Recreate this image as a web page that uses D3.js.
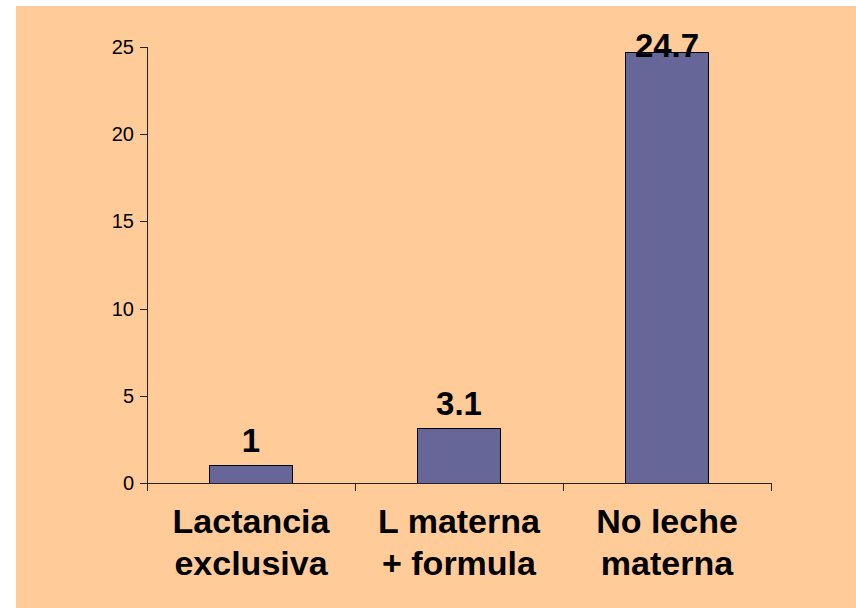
<!DOCTYPE html>
<html>
<head>
<script src="https://d3js.org/d3.v7.min.js"></script>
<style>
  body { margin: 0; background: #fff; }
  svg { display: block; }
  text { font-family: "Liberation Sans", Arial, sans-serif; fill: #000; }
</style>
</head>
<body>
<svg class="target"></svg>
<script>

width = 856
height = 608

// chart data
categories = [ ['Lactancia', 'exclusiva'], ['L materna', '+ formula'], ['No leche', 'materna'] ]
values = [ 1, 3.1, 24.7 ]
yTicks = [ 0, 5, 10, 15, 20, 25 ]

margin = ({ top: 47, right: 85, bottom: 125, left: 147 })

const svg = d3.select('.target')
    .attr('width', width)
    .attr('height', height)

// peach panel
svg.append('rect')
    .attr('x', 16).attr('y', 6)
    .attr('width', width - 16).attr('height', height - 6)
    .attr('fill', '#ffcc99')

xScale = d3.scaleBand(
  d3.range(categories.length),
  [ margin.left, width - margin.right ]
).paddingInner(0.6).paddingOuter(0.3)

// boundaries between categories, for the tick marks
xEdges = d3.scaleLinear([ 0, categories.length ], [ margin.left, width - margin.right ])

yScale = d3.scaleLinear(
  [ 0, 25 ],
  [ height - margin.bottom, margin.top ]
)

// bars
svg.append('g')
  .selectAll('rect')
  .data(values)
  .join('rect')
    .attr('x', (d, i) => xScale(i))
    .attr('y', d => yScale(d))
    .attr('width', xScale.bandwidth())
    .attr('height', d => yScale(0) - yScale(d))
    .attr('fill', '#666699')
    .attr('stroke', '#000')
    .attr('stroke-width', 1)
    .attr('shape-rendering', 'crispEdges')

// y axis
const yAxis = d3.axisLeft(yScale)
    .tickValues(yTicks)
    .tickSize(7)
    .tickPadding(6)
    .tickSizeOuter(0)

const gy = svg.append('g')
    .attr('transform', `translate(${ margin.left },0)`)
    .call(yAxis)
gy.select('.domain').remove()
gy.selectAll('line').attr('stroke', '#222').attr('shape-rendering', 'crispEdges')
gy.selectAll('text')
    .style('font-size', '20px')
    .style('font-family', '"Liberation Sans Narrow", "Arial Narrow", "Liberation Sans", Arial, sans-serif')

// x axis (ticks at category boundaries, going down)
const xAxis = d3.axisBottom(xEdges)
    .tickValues(d3.range(categories.length + 1))
    .tickSize(8)
    .tickSizeOuter(0)
    .tickFormat('')

const gx = svg.append('g')
    .attr('transform', `translate(0,${ yScale(0) })`)
    .call(xAxis)
gx.select('.domain').attr('stroke', '#222').attr('shape-rendering', 'crispEdges')
gx.selectAll('line').attr('stroke', '#222').attr('shape-rendering', 'crispEdges')

// y axis line, runs down to the x tick length
svg.append('line')
    .attr('x1', margin.left).attr('x2', margin.left)
    .attr('y1', yScale(25)).attr('y2', yScale(0) + 8)
    .attr('stroke', '#222')
    .attr('shape-rendering', 'crispEdges')

// value labels
svg.append('g')
  .selectAll('text')
  .data(values)
  .join('text')
    .attr('x', (d, i) => xScale(i) + xScale.bandwidth() / 2)
    .attr('y', d => Math.max(yScale(d) - 14, yScale(25) + 10))
    .attr('text-anchor', 'middle')
    .style('font-size', '33px')
    .style('font-weight', 'bold')
    .text(d => d)

// category labels
const cats = svg.append('g')
  .selectAll('text')
  .data(categories)
  .join('text')
    .attr('text-anchor', 'middle')
    .style('font-size', '34px')
    .style('font-weight', 'bold')

cats.selectAll('tspan')
  .data((d, i) => d.map(s => ({ s, i })))
  .join('tspan')
    .attr('x', d => xScale(d.i) + xScale.bandwidth() / 2)
    .attr('y', (d, j) => yScale(0) + 50 + j * 42)
    .text(d => d.s)

</script>
</body>
</html>
